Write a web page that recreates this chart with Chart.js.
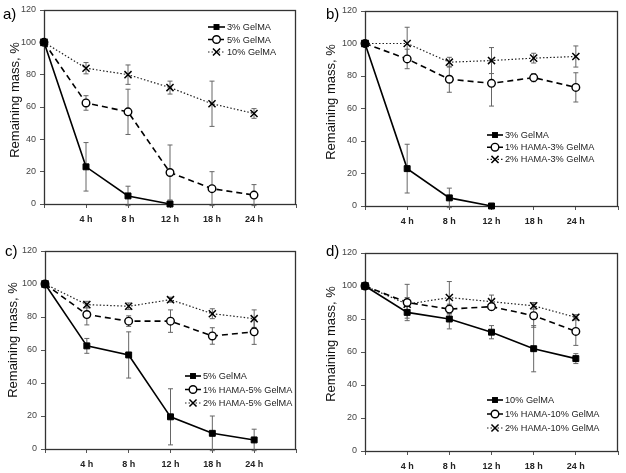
<!DOCTYPE html>
<html>
<head>
<meta charset="utf-8">
<script src="https://cdn.jsdelivr.net/npm/chart.js@4.4.1/dist/chart.umd.min.js"></script>
<style>
  html, body { margin: 0; padding: 0; background: #fff; }
  #wrap { position: relative; width: 626px; height: 473px; }
  #wrap canvas { position: absolute; }
</style>
</head>
<body>
<div id="wrap">
  <canvas id="cA" width="313" height="236" style="left:0;top:0"></canvas>
  <canvas id="cB" width="313" height="236" style="left:313px;top:0"></canvas>
  <canvas id="cC" width="313" height="237" style="left:0;top:236px"></canvas>
  <canvas id="cD" width="313" height="237" style="left:313px;top:236px"></canvas>
</div>
<script>
(function () {
  'use strict';

  // ── Data ─────────────────────────────────────────────────────
  var TIME_LABELS = ['', '4 h', '8 h', '12 h', '18 h', '24 h', ''];
  var Y_MIN = 0, Y_MAX = 120, Y_STEP = 20;
  var Y_TITLE = 'Remaining mass, %';

  var GEL3       = [100, 23, 5, 0, null, null];
  var GEL3_ERR   = [0, 15, 6, 0, null, null];
  var GEL5       = [100, 62.5, 57, 19.5, 9.5, 5.5];
  var GEL5_ERR   = [0, 4.5, 14, 17, 10.5, 6.5];
  var GEL10      = [100, 84, 80, 72, 62, 56];
  var GEL10_ERR  = [0, 3.5, 6, 4, 14, 3];

  var H1G3       = [100, 90.5, 78, 75.5, 79, 73];
  var H1G3_ERR   = [0, 6, 8, 14, 2.5, 9];
  var H2G3       = [100, 100, 88.5, 89.5, 91, 92];
  var H2G3_ERR   = [0, 10, 3, 8, 3, 6.5];

  var H1G5       = [100, 81.5, 77.5, 77.5, 68.5, 71];
  var H1G5_ERR   = [0, 6.3, 3.2, 6.8, 5, 7.6];
  var H2G5       = [100, 87.5, 86.5, 90.5, 82, 79];
  var H2G5_ERR   = [0, 2, 2, 1.5, 3, 5.3];

  var H1G10      = [100, 90, 86, 87.5, 82, 72.5];
  var H1G10_ERR  = [0, 11, 3, 2, 7, 8.5];
  var H2G10      = [100, 89, 93, 90.5, 88, 81];
  var H2G10_ERR  = [0, 4, 9.7, 4, 2, 1.6];

  var FONT = '"Liberation Sans", Arial, sans-serif';

  // ── Line / marker styles ─────────────────────────────────────
  var STYLE = {
    solid:  { dash: [],       width: 1.6, color: '#000', point: 'rect',     radius: 4.2, fill: '#000', pbw: 1 },
    dashed: { dash: [6, 4],   width: 1.6, color: '#000', point: 'circle',   radius: 3.8, fill: '#fff', pbw: 1.4 },
    dotted: { dash: [1.5, 2], width: 1.2, color: '#222', point: 'crossRot', radius: 5,   fill: '#000', pbw: 1.5 }
  };

  function drawMarker(ctx, st, x, y) {
    ctx.save();
    ctx.setLineDash([]);
    ctx.lineWidth = st.pbw;
    ctx.strokeStyle = '#000';
    ctx.fillStyle = st.fill;
    ctx.beginPath();
    if (st.point === 'rect') {
      var s = st.radius * Math.SQRT1_2;
      ctx.rect(x - s, y - s, 2 * s, 2 * s);
      ctx.fill();
    } else if (st.point === 'circle') {
      ctx.arc(x, y, st.radius, 0, Math.PI * 2);
      ctx.fill(); ctx.stroke();
    } else {
      var o = st.radius * Math.SQRT1_2;
      ctx.moveTo(x - o, y - o); ctx.lineTo(x + o, y + o);
      ctx.moveTo(x - o, y + o); ctx.lineTo(x + o, y - o);
      ctx.stroke();
    }
    ctx.restore();
  }

  // ── Plugin: box, error bars, legend, labels ──────────────────
  var decor = {
    id: 'decor',
    beforeDatasetsDraw: function (chart) {
      var ctx = chart.ctx, a = chart.chartArea, ys = chart.scales.y;
      ctx.save();
      ctx.strokeStyle = '#333';
      ctx.lineWidth = 1.3;
      ctx.strokeRect(a.left + 0.5, a.top + 0.5, a.right - a.left - 1, a.bottom - a.top);
      // error bars
      ctx.strokeStyle = '#666';
      ctx.lineWidth = 1;
      chart.data.datasets.forEach(function (ds, di) {
        var meta = chart.getDatasetMeta(di);
        (ds.errorBars || []).forEach(function (e, i) {
          if (!e || ds.data[i] == null) return;
          var x = meta.data[i].x;
          var t = ys.getPixelForValue(ds.data[i] + e);
          var b = ys.getPixelForValue(ds.data[i] - e);
          ctx.beginPath();
          ctx.moveTo(x, t); ctx.lineTo(x, b);
          ctx.moveTo(x - 2.5, t); ctx.lineTo(x + 2.5, t);
          ctx.moveTo(x - 2.5, b); ctx.lineTo(x + 2.5, b);
          ctx.stroke();
        });
      });
      ctx.restore();
    },
    afterDraw: function (chart, args, o) {
      var ctx = chart.ctx;
      ctx.save();
      // panel letter
      ctx.fillStyle = '#000';
      ctx.font = '15px ' + FONT;
      ctx.textBaseline = 'middle';
      ctx.textAlign = 'left';
      ctx.fillText(o.letter, o.letterX, o.letterY);
      // y title
      ctx.save();
      ctx.translate(o.titleX, o.titleY);
      ctx.rotate(-Math.PI / 2);
      ctx.textAlign = 'center';
      ctx.font = '13px ' + FONT;
      ctx.fillStyle = '#111';
      ctx.fillText(Y_TITLE, 0, 0);
      ctx.restore();
      // legend
      ctx.font = '9.2px ' + FONT;
      ctx.textAlign = 'left';
      chart.data.datasets.forEach(function (ds, i) {
        var st = ds.styleRef;
        var y = o.legY + i * o.legDy;
        ctx.save();
        ctx.strokeStyle = st.color;
        ctx.lineWidth = st.width;
        ctx.setLineDash(st.dash);
        ctx.beginPath();
        ctx.moveTo(o.legX0, y); ctx.lineTo(o.legX1, y);
        ctx.stroke();
        ctx.restore();
        drawMarker(ctx, st, (o.legX0 + o.legX1) / 2, y);
        ctx.fillStyle = '#222';
        ctx.fillText(ds.label, o.legX1 + 2, y + 0.5);
      });
      ctx.restore();
    }
  };

  function dataset(label, data, err, st) {
    return {
      label: label,
      data: data,
      errorBars: err,
      styleRef: st,
      borderColor: st.color,
      borderWidth: st.width,
      borderDash: st.dash,
      pointStyle: st.point,
      pointRadius: st.radius,
      pointHoverRadius: st.radius,
      pointBackgroundColor: st.fill,
      pointBorderColor: '#000',
      pointBorderWidth: st.pbw,
      tension: 0,
      fill: false,
      spanGaps: false,
      clip: false
    };
  }

  function makePanel(id, series, p) {
    new Chart(document.getElementById(id), {
      type: 'line',
      data: {
        labels: TIME_LABELS,
        datasets: series.map(function (s) { return dataset(s[0], s[1], s[2], s[3]); })
      },
      options: {
        responsive: false,
        animation: false,
        events: [],
        layout: { padding: { left: 0, top: p.top, right: p.right, bottom: 0 } },
        plugins: {
          legend: { display: false },
          tooltip: { enabled: false },
          decor: p
        },
        scales: {
          x: {
            type: 'category',
            offset: false,
            afterFit: function (s) { s.height = p.xh; },
            grid: { display: true, drawOnChartArea: false, drawTicks: true, tickLength: 4, color: '#555' },
            border: { display: false },
            ticks: {
              autoSkip: false, maxRotation: 0, padding: 6,
              color: '#222', font: { family: FONT, size: 9, weight: 'bold' }
            }
          },
          y: {
            min: Y_MIN, max: Y_MAX,
            afterFit: function (s) { s.width = p.yw; },
            grid: { display: true, drawOnChartArea: false, drawTicks: true, tickLength: 4, color: '#555' },
            border: { display: false },
            ticks: {
              stepSize: Y_STEP, padding: 4,
              color: '#444', font: { family: FONT, size: 9 }
            }
          }
        }
      },
      plugins: [decor]
    });
  }

  makePanel('cA', [
    ['3% GelMA',  GEL3,  GEL3_ERR,  STYLE.solid],
    ['5% GelMA',  GEL5,  GEL5_ERR,  STYLE.dashed],
    ['10% GelMA', GEL10, GEL10_ERR, STYLE.dotted]
  ], { yw: 44, top: 10, right: 17, xh: 32,
       letter: 'a)', letterX: 3, letterY: 15, titleX: 15, titleY: 100,
       legX0: 208, legX1: 225, legY: 27, legDy: 12.5 });

  makePanel('cB', [
    ['3% GelMA',          GEL3, GEL3_ERR, STYLE.solid],
    ['1% HAMA-3% GelMA',  H1G3, H1G3_ERR, STYLE.dashed],
    ['2% HAMA-3% GelMA',  H2G3, H2G3_ERR, STYLE.dotted]
  ], { yw: 52, top: 11, right: 8, xh: 30,
       letter: 'b)', letterX: 13, letterY: 15, titleX: 18, titleY: 102,
       legX0: 174, legX1: 190, legY: 135, legDy: 12.2 });

  makePanel('cC', [
    ['5% GelMA',          GEL5, GEL5_ERR, STYLE.solid],
    ['1% HAMA-5% GelMA',  H1G5, H1G5_ERR, STYLE.dashed],
    ['2% HAMA-5% GelMA',  H2G5, H2G5_ERR, STYLE.dotted]
  ], { yw: 45, top: 15, right: 17, xh: 24,
       letter: 'c)', letterX: 5, letterY: 16, titleX: 13, titleY: 104,
       legX0: 185, legX1: 201, legY: 140, legDy: 13.5 });

  makePanel('cD', [
    ['10% GelMA',          GEL10, GEL10_ERR, STYLE.solid],
    ['1% HAMA-10% GelMA',  H1G10, H1G10_ERR, STYLE.dashed],
    ['2% HAMA-10% GelMA',  H2G10, H2G10_ERR, STYLE.dotted]
  ], { yw: 52, top: 17, right: 8, xh: 22,
       letter: 'd)', letterX: 13, letterY: 16, titleX: 18, titleY: 108,
       legX0: 174, legX1: 190, legY: 164, legDy: 14 });

})();
</script>
</body>
</html>
